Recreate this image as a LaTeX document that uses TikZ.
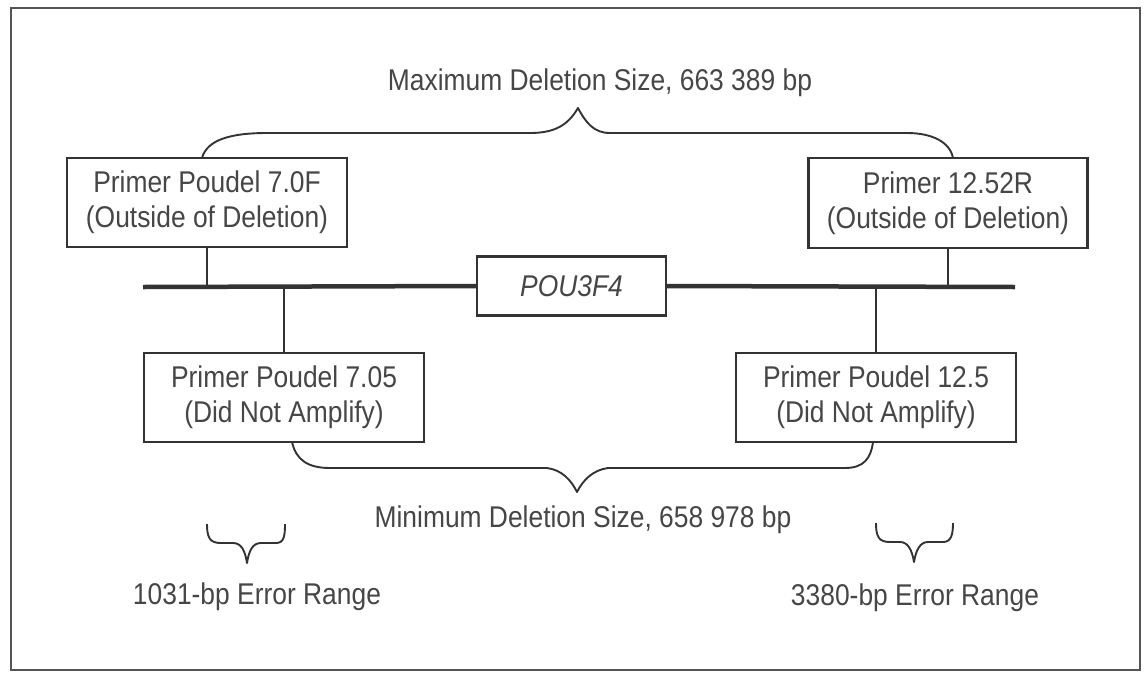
\documentclass[tikz,border=0pt]{standalone}
\usepackage{fontspec}
\setmainfont[FakeStretch=0.88]{Liberation Sans}
\definecolor{txtgray}{HTML}{464646}
\definecolor{linegray}{HTML}{333333}
\definecolor{framegray}{HTML}{555555}
\tikzset{
  lbl/.style={font=\fontsize{30}{35}\selectfont, text=txtgray, inner sep=0pt, align=center},
  primerbox/.style={lbl, draw=linegray, line width=2.2pt, fill=white,
    minimum width=280pt, minimum height=89pt},
  genebox/.style={lbl, draw=linegray, line width=2.2pt, fill=white,
    minimum width=189pt, minimum height=59pt, font=\fontsize{30}{35}\selectfont\itshape},
  chrom/.style={draw=linegray, line width=4.5pt},
  stem/.style={draw=linegray, line width=2pt},
  bracepath/.style={draw=linegray, line width=1.9pt, line join=round},
}
\begin{document}
\begin{tikzpicture}[x=1pt, y=-1pt]
\useasboundingbox (0,0) rectangle (1144,673);
% outer frame
\draw[framegray, line width=2.5pt] (11,8) rectangle (1140,670);

% chromosome segment with the gene
\coordinate (lend) at (143,287);
\coordinate (rend) at (1015,287);
\node[genebox] (gene) at (571.5,286) {POU3F4};
\draw[chrom] (lend) -- (gene.west);
\draw[chrom] (gene.east) -- (rend);

% primer boxes
\node[primerbox] (p70F) at (207,202.5) {Primer Poudel 7.0F\\(Outside of Deletion)};
\node[primerbox, minimum width=279pt, minimum height=90pt] (p1252R) at (948,203) {Primer 12.52R\\(Outside of Deletion)};
\node[primerbox] (p705) at (284,397.5) {Primer Poudel 7.05\\(Did Not Amplify)};
\node[primerbox] (p125) at (876,397.5) {Primer Poudel 12.5\\(Did Not Amplify)};

% stems from primers to the chromosome
\draw[stem] (p70F.south) -- (p70F.south |- lend);
\draw[stem] (p1252R.south) -- (p1252R.south |- rend);
\draw[stem] (p705.north) -- (p705.north |- lend);
\draw[stem] (p125.north) -- (p125.north |- rend);

% maximum deletion brace
\draw[bracepath] (202,158) .. controls (207,140) and (230,133) .. (267,133)
  -- (530,133) .. controls (555,133) and (568,125) .. (578,108)
  .. controls (586,123) and (594,133) .. (610,133)
  -- (907,133) .. controls (932,133) and (950,142) .. (953,158);
\node[lbl] (maxlbl) at (600,83) {Maximum Deletion Size, 663 389 bp};

% minimum deletion brace
\draw[bracepath] (292,442) .. controls (296,460) and (308,468) .. (330,468)
  -- (547,468) .. controls (562,470) and (571,480) .. (577,492)
  .. controls (583,480) and (593,470) .. (608,468)
  -- (845,468) .. controls (864,468) and (871,458) .. (873,442);
\node[lbl] (minlbl) at (583,520) {Minimum Deletion Size, 658 978 bp};

% error range braces
\draw[bracepath] (207,524) .. controls (207,538) and (210,543) .. (221,543)
  -- (233,543) .. controls (241,543) and (245,550) .. (247,563)
  .. controls (249,550) and (253,543) .. (261,543)
  -- (276,543) .. controls (284,543) and (285,536) .. (285,524);
\node[lbl] (err1) at (257,597) {1031-bp Error Range};

\draw[bracepath] (876,523) .. controls (876,537) and (879,542) .. (890,542)
  -- (900,542) .. controls (908,542) and (912,550) .. (914,562)
  .. controls (916,550) and (920,542) .. (928,542)
  -- (943,542) .. controls (951,542) and (953,535) .. (953,523);
\node[lbl] (err2) at (915,598) {3380-bp Error Range};
\end{tikzpicture}
\end{document}
